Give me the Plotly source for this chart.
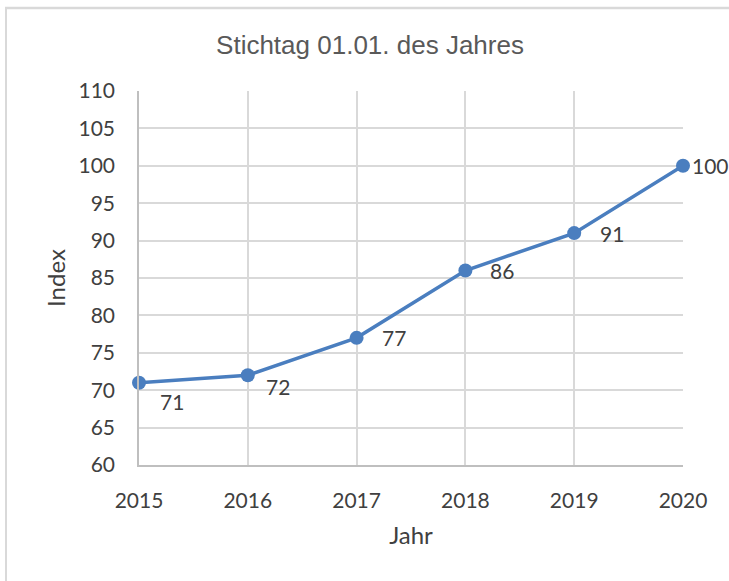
import plotly.graph_objects as go

years = [2015, 2016, 2017, 2018, 2019, 2020]
index_values = [71, 72, 77, 86, 91, 100]

color = "#4A7EBF"
font_family = "Lato, Carlito, Calibri, sans-serif"
tick_font = dict(family=font_family, size=21, color="#404040")
title_font = dict(family=font_family, size=24, color="#404040")

# label offsets (pixels) relative to the point, mimicking Excel's placement
label_shift = [(19, -19), (16, -11), (23, 0), (23, 0), (24, 0), (7, 0)]

fig = go.Figure()
fig.add_trace(go.Scatter(
    x=years, y=index_values,
    mode="lines+markers",
    line=dict(color=color, width=3.5),
    marker=dict(color=color, size=14),
    cliponaxis=False,
    showlegend=False,
    hoverinfo="skip",
))

annotations = []
for yr, v, (dx, dy) in zip(years, index_values, label_shift):
    annotations.append(dict(x=yr, y=v, xref="x", yref="y", text=str(v), showarrow=False,
                            xanchor="left", yanchor="middle", xshift=dx, yshift=dy,
                            font=tick_font))

fig.update_layout(
    width=729, height=581,
    margin=dict(l=139, r=46, t=91, b=116),
    paper_bgcolor="white", plot_bgcolor="white",
    title=dict(text="Stichtag 01.01. des Jahres", x=370/729, xanchor="center",
               y=1-45/581, yanchor="middle",
               font=dict(family="Liberation Sans, Arial, sans-serif", size=26, color="#595959")),
    xaxis=dict(range=[2015, 2020], tickvals=years, ticktext=[str(y) for y in years],
               showgrid=True, gridcolor="#D9D9D9", gridwidth=1.5,
               showline=True, linecolor="#BFBFBF", linewidth=1.5,
               tickfont=tick_font, ticks="", ticklabelstandoff=16, zeroline=False,
               title=dict(text="Jahr", font=title_font, standoff=16)),
    yaxis=dict(range=[60, 110], dtick=5, showgrid=True, gridcolor="#D9D9D9", gridwidth=1.5,
               showline=True, linecolor="#BFBFBF", linewidth=1.5,
               tickfont=tick_font, ticks="", ticklabelstandoff=18, zeroline=False,
               title=dict(text="Index", font=title_font, standoff=6)),
    annotations=annotations,
    shapes=[
        dict(type="line", xref="paper", yref="paper", x0=-133/544, x1=-133/544, y0=-120/374, y1=1+84/374,
             line=dict(color="#D9D9D9", width=2)),
        dict(type="line", xref="paper", yref="paper", x0=-134/544, x1=1+50/544, y0=1+83/374, y1=1+83/374,
             line=dict(color="#D9D9D9", width=2.5)),
    ],
)

fig.write_html("out.html", config={"displayModeBar": False},
               post_script="document.body.style.margin='0';")
